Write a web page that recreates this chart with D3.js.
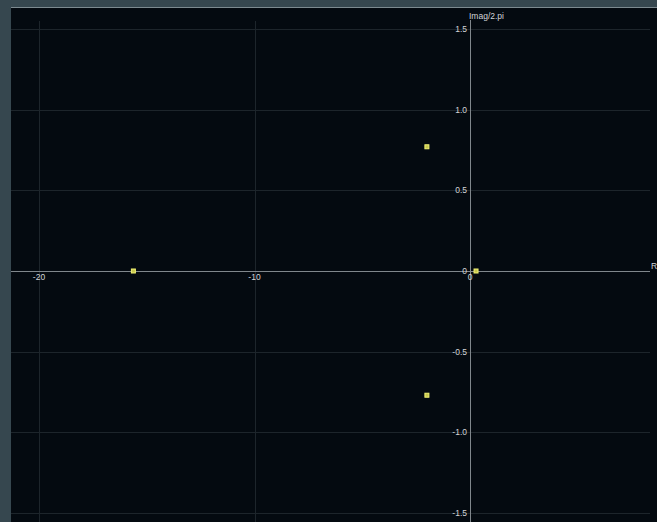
<!DOCTYPE html>
<html>
<head>
<meta charset="utf-8">
<script src="https://cdn.jsdelivr.net/npm/d3@7"></script>
<style>
  html, body { margin: 0; padding: 0; background: #36474f; }
  svg { display: block; }
  text { font-family: "Liberation Sans", Arial, sans-serif; }
</style>
</head>
<body>
<svg id="chart" width="657" height="522"></svg>
<script>
// Pole locations: real part and imaginary part / 2π
const poleRe = [-15.62, -2.0, -2.0, 0.28];
const poleIm = [0, 0.77, -0.77, 0];

const xTicks = [-20, -10, 0];
const xTickLabels = ["-20", "-10", "0"];
const yTicks = [1.5, 1.0, 0.5, 0, -0.5, -1.0, -1.5];
const yTickLabels = ["1.5", "1.0", "0.5", "0", "-0.5", "-1.0", "-1.5"];

const W = 657, H = 522;
const panel = { left: 11, top: 7, right: 657, bottom: 522 };

const svg = d3.select("#chart");

// plot panel
svg.append("rect")
  .attr("x", panel.left).attr("y", panel.top)
  .attr("width", panel.right - panel.left).attr("height", panel.bottom - panel.top)
  .attr("fill", "#040a10");
svg.append("line")
  .attr("x1", panel.left).attr("x2", panel.right)
  .attr("y1", panel.top + 0.5).attr("y2", panel.top + 0.5)
  .attr("stroke", "#7d8a90").attr("stroke-width", 1);

const x = d3.scaleLinear().domain([-20, 0]).range([39, 470]);
const y = d3.scaleLinear().domain([1.5, -1.5]).range([29, 513]);

const xEnd = 650;      // right end of axis / grid
const yTop = 21;       // top end of vertical lines

// grid
svg.append("g").selectAll("line").data(yTicks).join("line")
  .attr("x1", panel.left).attr("x2", xEnd)
  .attr("y1", d => Math.round(y(d)) + 0.5).attr("y2", d => Math.round(y(d)) + 0.5)
  .attr("stroke", "#1d252b").attr("stroke-width", 1);
svg.append("g").selectAll("line").data(xTicks.filter(d => d !== 0)).join("line")
  .attr("x1", d => Math.round(x(d)) + 0.5).attr("x2", d => Math.round(x(d)) + 0.5)
  .attr("y1", yTop).attr("y2", H)
  .attr("stroke", "#1d252b").attr("stroke-width", 1);

// axes
svg.append("line")
  .attr("x1", panel.left).attr("x2", xEnd)
  .attr("y1", Math.round(y(0)) + 0.5).attr("y2", Math.round(y(0)) + 0.5)
  .attr("stroke", "#80878c").attr("stroke-width", 1);
svg.append("line")
  .attr("x1", Math.round(x(0)) + 0.5).attr("x2", Math.round(x(0)) + 0.5)
  .attr("y1", yTop - 1).attr("y2", H)
  .attr("stroke", "#80878c").attr("stroke-width", 1);

// tick labels
const labelColor = "#d2d5d8";
svg.append("g").selectAll("text").data(xTicks).join("text")
  .attr("x", d => x(d)).attr("y", y(0) + 9)
  .attr("text-anchor", "middle")
  .attr("font-size", 8.5).attr("fill", labelColor)
  .text((d, i) => xTickLabels[i]);
svg.append("g").selectAll("text").data(yTicks).join("text")
  .attr("x", x(0) - 3).attr("y", d => y(d) + 3)
  .attr("text-anchor", "end")
  .attr("font-size", 8.5).attr("fill", labelColor)
  .text((d, i) => yTickLabels[i]);

// axis titles
svg.append("text")
  .attr("x", x(0) - 1).attr("y", 19)
  .attr("font-size", 8.5).attr("fill", labelColor)
  .text("Imag/2.pi");
svg.append("text")
  .attr("x", xEnd + 1).attr("y", y(0) - 2)
  .attr("font-size", 8.5).attr("fill", labelColor)
  .text("Re");

// poles
const pts = poleRe.map((r, i) => ({ re: r, im: poleIm[i] }));
svg.append("g").selectAll("rect").data(pts).join("rect")
  .attr("x", d => x(d.re) - 2).attr("y", d => y(d.im) - 2)
  .attr("width", 4).attr("height", 4)
  .attr("fill", "#c8c850")
  .attr("stroke", "#f2f272").attr("stroke-width", 1);
</script>
</body>
</html>
